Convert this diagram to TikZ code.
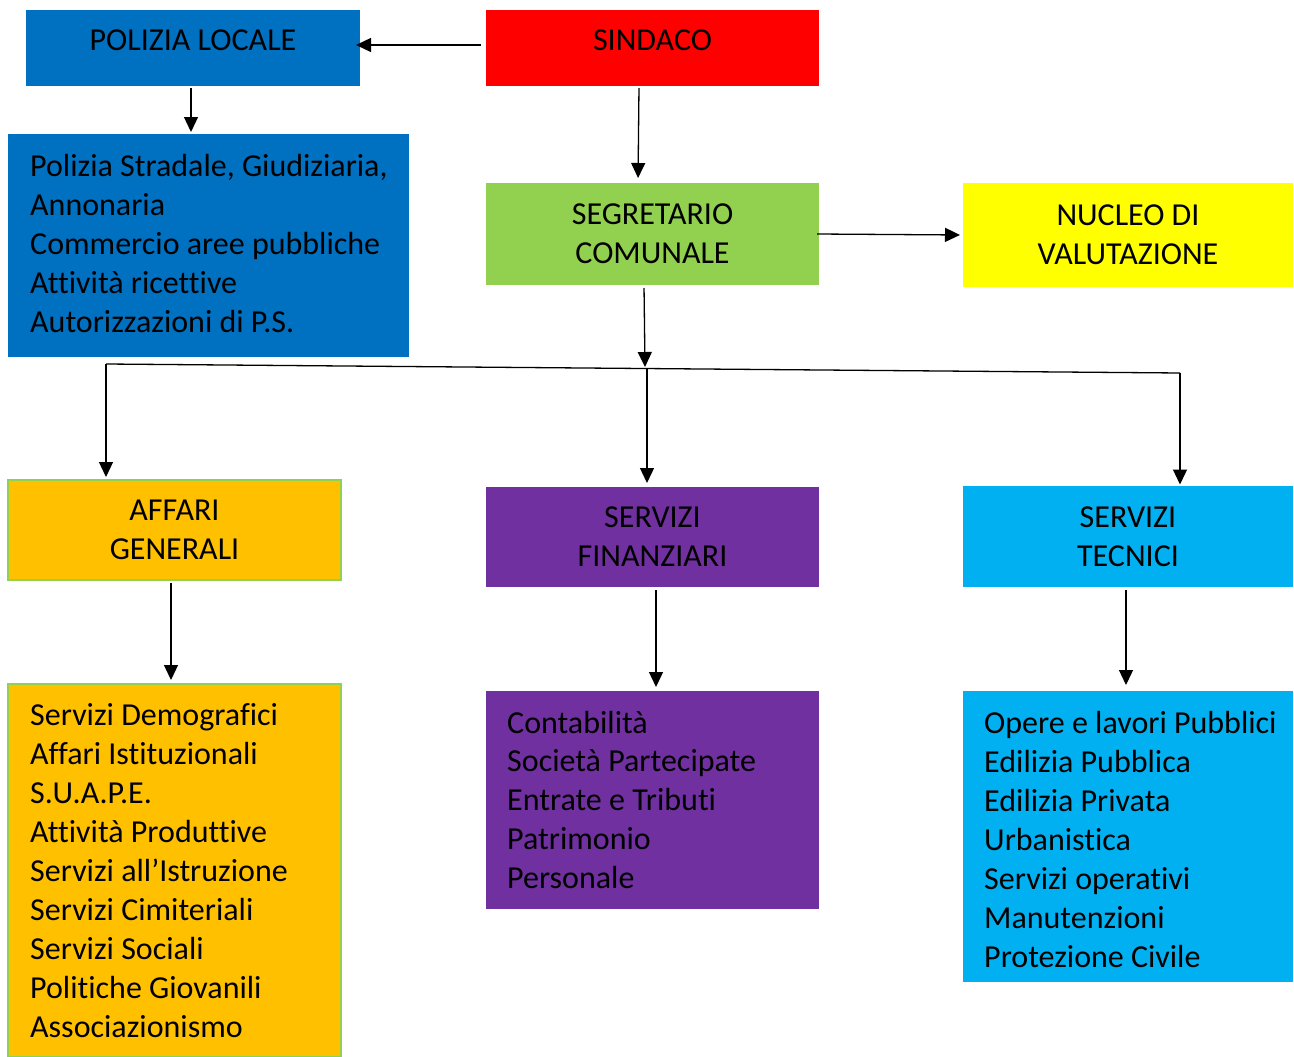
\documentclass[tikz,border=0pt]{standalone}
\usepackage{fontspec}
\setmainfont{Carlito}[Ligatures=NoCommon]
\usetikzlibrary{arrows.meta,calc}
\definecolor{cblue}{HTML}{0070C0}
\definecolor{cred}{HTML}{FF0000}
\definecolor{cgreen}{HTML}{92D050}
\definecolor{cyellow}{HTML}{FFFF00}
\definecolor{corange}{HTML}{FFC000}
\definecolor{cpurple}{HTML}{7030A0}
\definecolor{ccyan}{HTML}{00B0F0}
\begin{document}
\begin{tikzpicture}[x=1pt,y=-1pt,
  txtfont/.style={font=\fontsize{32}{39}\selectfont},
  box/.style={txtfont, draw=none, inner sep=0pt, outer sep=0pt, align=center},
  onebox/.style={box, text height=20pt, text depth=14pt},
  orangebox/.style={box, fill=corange, draw=cgreen, line width=2pt},
  listtext/.style={txtfont, align=left, inner sep=0pt, anchor=west},
  conn/.style={-{Triangle[length=15pt,width=14pt]}, line width=1.3pt},
  plain/.style={line width=1.3pt}]
\useasboundingbox[fill=white] (0,0) rectangle (1294,1057);

% top row
\node[onebox, fill=cblue, minimum width=334, minimum height=76] (polizia) at (193,48) {POLIZIA LOCALE};
\node[onebox, fill=cred, minimum width=333, minimum height=76] (sindaco) at (652.5,48) {SINDACO};

% polizia details
\node[box, fill=cblue, minimum width=401, minimum height=223] (poldet) at (208.5,245.5) {};
\node[listtext] (poltext) at ([xshift=22pt,yshift=2pt]poldet.west) {Polizia Stradale, Giudiziaria,\\Annonaria\\Commercio aree pubbliche\\Attività ricettive\\Autorizzazioni di P.S.};

% segretario and nucleo
\node[box, fill=cgreen, minimum width=333, minimum height=102] (segr) at (652.5,234) {SEGRETARIO\\COMUNALE};
\node[box, fill=cyellow, minimum width=330, minimum height=104] (nucleo) at (1128,235) {NUCLEO DI\\VALUTAZIONE};

% second level
\node[orangebox, minimum width=333, minimum height=100] (affari) at (174.5,529.5) {AFFARI\\GENERALI};
\node[box, fill=cpurple, minimum width=333, minimum height=100] (fin) at (652.5,537) {SERVIZI\\FINANZIARI};
\node[box, fill=ccyan, minimum width=330, minimum height=101] (tec) at (1128,536.5) {SERVIZI\\TECNICI};

% detail boxes
\node[orangebox, minimum width=333, minimum height=373] (affdet) at (174.5,870.5) {};
\node[listtext] (afftext) at ([xshift=22pt]affdet.west) {Servizi Demografici\\Affari Istituzionali\\S.U.A.P.E.\\Attività Produttive\\Servizi all’Istruzione\\Servizi Cimiteriali\\Servizi Sociali\\Politiche Giovanili\\Associazionismo};
\node[box, fill=cpurple, minimum width=333, minimum height=218] (findet) at (652.5,800) {};
\node[listtext] (fintext) at ([xshift=21pt]findet.west) {Contabilità\\Società Partecipate\\Entrate e Tributi\\Patrimonio\\Personale};
\node[box, fill=ccyan, minimum width=330, minimum height=291] (tecdet) at (1128,836.5) {};
\node[listtext] (tectext) at ([xshift=21pt,yshift=-3pt]tecdet.west) {Opere e lavori Pubblici\\Edilizia Pubblica\\Edilizia Privata\\Urbanistica\\Servizi operativi\\Manutenzioni\\Protezione Civile};

% connectors
\draw[conn] ([xshift=-5pt,yshift=3pt]sindaco.west) -- ([xshift=-4pt,yshift=3pt]polizia.east);
\draw[conn, shorten <=2pt, shorten >=2pt] ([xshift=-2pt]polizia.south) -- ([xshift=-2pt]polizia.south |- poldet.north);
\draw[conn, shorten <=2pt, shorten >=5pt] ([xshift=-13.5pt]sindaco.south) -- ([xshift=-14.5pt]segr.north);
\draw[conn, shorten >=3pt] ([xshift=-2pt]segr.east) -- (nucleo.west);

\coordinate (jl) at (106,364);
\coordinate (jr) at (1180,373);
\coordinate (jt) at (645,367);
\coordinate (jm) at (647,369);
\draw[conn, shorten <=3pt] ([xshift=-8.5pt]segr.south) -- (jt);
\draw[plain] (jl) -- (jr);
\draw[conn, shorten >=2.5pt] (jl) -- (jl |- affari.north);
\draw[conn, shorten >=4pt] (jm) -- (jm |- fin.north);
\draw[conn, shorten >=1.5pt] (jr) -- (jr |- tec.north);

\draw[conn, shorten <=3pt, shorten >=4pt] ([xshift=-3.5pt]affari.south) -- ([xshift=-3.5pt]affari.south |- affdet.north);
\draw[conn, shorten <=3pt, shorten >=4pt] ([xshift=3.5pt]fin.south) -- ([xshift=3.5pt]fin.south |- findet.north);
\draw[conn, shorten <=3pt, shorten >=6pt] ([xshift=-2pt]tec.south) -- ([xshift=-2pt]tec.south |- tecdet.north);
\end{tikzpicture}
\end{document}
